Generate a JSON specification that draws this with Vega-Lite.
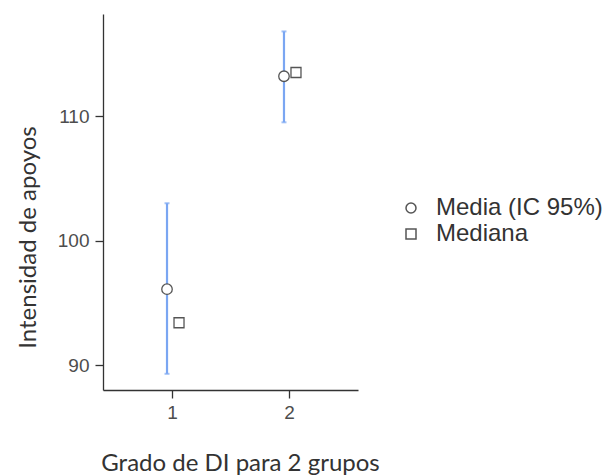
{
  "$schema": "https://vega.github.io/schema/vega-lite/v6.json",
  "autosize": {"type": "none"},
  "width": 255,
  "height": 376,
  "padding": {"left": 103, "top": 14, "right": 253, "bottom": 86},
  "background": "white",
  "config": {"view": {"stroke": null}},
  "data": {"values": [
    {"grupo": "1", "media": 96.1, "lo": 89.3, "hi": 103.0, "mediana": 93.4},
    {"grupo": "2", "media": 113.2, "lo": 109.5, "hi": 116.8, "mediana": 113.5}
  ]},
  "encoding": {
    "x": {"field": "grupo", "type": "ordinal",
      "scale": {"type": "point", "padding": 0.59},
      "axis": {"title": "Grado de DI para 2 grupos", "labelAngle": 0, "domainColor": "#333333", "domainWidth": 1.3,
        "tickColor": "#333333", "tickSize": 8, "tickWidth": 1.3, "labelColor": "#4d4d4d", "labelFont": "Liberation Sans", "labelFontSize": 19,
        "labelPadding": 5, "titleFont": "Lato", "titleFontSize": 24, "titleFontWeight": "normal", "titleColor": "#333333",
        "titleY": 80, "titleBaseline": "alphabetic", "titleX": 137, "grid": false}}
  },
  "layer": [
    {
      "mark": {"type": "rule", "color": "#7aa6f2", "strokeWidth": 2.2, "xOffset": -5},
      "encoding": {
        "y": {"field": "lo", "type": "quantitative",
          "scale": {"domain": [88, 118.2], "nice": false, "zero": false},
          "axis": {"title": "Intensidad de apoyos", "values": [90, 100, 110], "domainColor": "#333333", "domainWidth": 1.3,
            "tickColor": "#333333", "tickSize": 8, "tickWidth": 1.3, "labelColor": "#4d4d4d", "labelFont": "Liberation Sans", "labelFontSize": 19,
            "labelPadding": 6, "titleFont": "Lato", "titleFontSize": 24, "titleFontWeight": "normal", "titleColor": "#333333",
            "titleX": -75, "titleY": 223, "titleBaseline": "middle", "grid": false}},
        "y2": {"field": "hi"}
      }
    },
    {
      "mark": {"type": "tick", "color": "#7aa6f2", "size": 5, "thickness": 2, "xOffset": -5, "orient": "horizontal"},
      "encoding": {"y": {"field": "lo", "type": "quantitative"}}
    },
    {
      "mark": {"type": "tick", "color": "#7aa6f2", "size": 5, "thickness": 2, "xOffset": -5, "orient": "horizontal"},
      "encoding": {"y": {"field": "hi", "type": "quantitative"}}
    },
    {
      "mark": {"type": "point", "filled": false, "fill": "white", "color": "#555555", "strokeWidth": 1.3, "size": 110, "opacity": 1, "xOffset": -5},
      "encoding": {
        "y": {"field": "media", "type": "quantitative"},
        "shape": {"datum": "Media (IC 95%)", "type": "nominal",
          "scale": {"domain": ["Media (IC 95%)", "Mediana"], "range": ["circle", "square"]},
          "legend": {"title": null, "orient": "none", "legendX": 296, "legendY": 182, "labelFont": "Liberation Sans",
            "labelFontSize": 24, "labelColor": "#333333", "labelLimit": 400, "symbolSize": 100, "rowPadding": 2, "labelOffset": 13,
            "encode": {"symbols": {"update": {"stroke": {"value": "#555555"}, "fill": {"value": "white"}, "strokeWidth": {"value": 1.3}, "opacity": {"value": 1}}}}}}
      }
    },
    {
      "mark": {"type": "point", "filled": false, "fill": "white", "color": "#555555", "strokeWidth": 1.3, "size": 100, "opacity": 1, "xOffset": 7},
      "encoding": {
        "y": {"field": "mediana", "type": "quantitative"},
        "shape": {"datum": "Mediana", "type": "nominal"}
      }
    }
  ]
}
